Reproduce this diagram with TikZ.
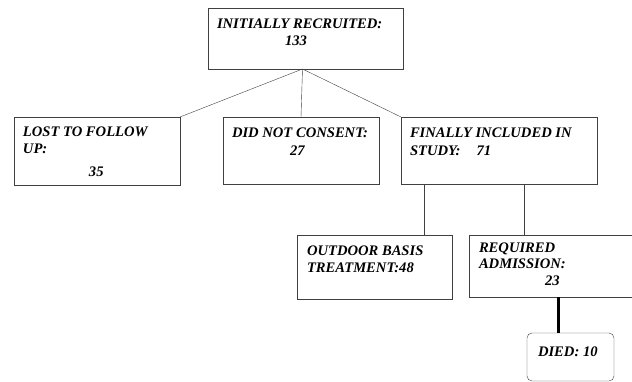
\documentclass[tikz,border=0pt]{standalone}
\usepackage{fontspec}
\setmainfont{Liberation Serif}
\newcommand{\boxtxt}[3]{\parbox[t][#2][t]{#1}{\raggedright\rule{0pt}{13pt}#3}}
\tikzset{
  box/.style={draw=black!75,anchor=north west,inner xsep=9pt,inner ysep=8pt,outer sep=0pt,
    font=\fontsize{14.6}{17}\selectfont\bfseries\itshape},
  link/.style={draw=black!75}
}
\begin{document}
\begin{tikzpicture}[x=1pt,y=-1pt]
\useasboundingbox (0,0) rectangle (632,382);

\node[box] (init) at (208,8) {\boxtxt{177pt}{45pt}{INITIALLY RECRUITED:\\\hspace*{68pt}133}};
\node[box,inner ysep=7pt] (lost) at (14,117) {\boxtxt{148pt}{54pt}{LOST TO FOLLOW\\UP:\\[6pt]\hspace*{66pt}35}};
\node[box] (cons) at (223,117) {\boxtxt{138pt}{51pt}{DID NOT CONSENT:\\[1pt]\hspace*{58pt}27}};
\node[box] (incl) at (401,117) {\boxtxt{178pt}{51pt}{FINALLY INCLUDED IN\\[1pt]STUDY:\hspace{16pt}71}};
\node[box] (outd) at (297,235) {\boxtxt{137pt}{48pt}{\hspace*{1pt}OUTDOOR BASIS\\\hspace*{1pt}TREATMENT:48}};
\node[box,inner ysep=4pt] (adm) at (469,235) {\boxtxt{170pt}{54pt}{\hspace*{1pt}REQUIRED\\\hspace*{1pt}ADMISSION:\\[-1pt]\hspace*{67pt}23}};
\node[box,rounded corners=5pt,inner ysep=10pt] (died) at (527,333) {\boxtxt{69pt}{28pt}{\hspace*{2pt}DIED: 10}};

\draw[link] ([xshift=-3pt]init.south) -- (lost.north east);
\draw[link] ([xshift=-3pt]init.south) -- (cons.north);
\draw[link] ([xshift=-3pt]init.south) -- (incl.north west);
\draw[link] ([xshift=23pt]incl.south west) -- ([xshift=127pt]outd.north west);
\draw[link] ([xshift=123pt]incl.south west) -- ([xshift=55pt]adm.north west);
\draw[line width=3pt] ([xshift=89pt]adm.south west) -- ([xshift=31pt]died.north west);
\end{tikzpicture}
\end{document}
